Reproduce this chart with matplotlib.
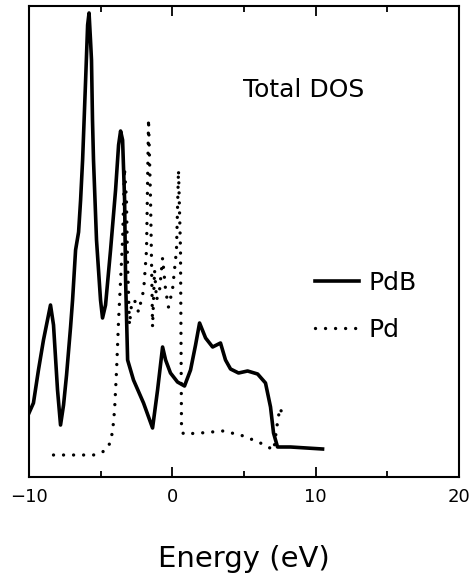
import matplotlib.pyplot as plt

# PdB total DOS (solid), arbitrary units
energy_pdb = [-10.0, -9.69, -9.34, -8.99, -8.71, -8.50, -8.29, -8.01, -7.80, -7.59,
              -7.38, -7.10, -6.96, -6.75, -6.61, -6.54, -6.40, -6.26, -6.05, -5.91,
              -5.81, -5.71, -5.64, -5.57, -5.50, -5.29, -5.01, -4.87, -4.66, -4.31,
              -3.96, -3.75, -3.61, -3.47, -3.33, -3.26, -3.12, -2.71, -2.01, -1.38,
              -1.03, -0.68, -0.47, -0.13, 0.36, 0.85, 1.27, 1.62, 1.90, 2.32,
              2.81, 3.36, 3.71, 4.06, 4.62, 5.25, 5.95, 6.50, 6.85, 7.06,
              7.34, 8.25, 10.48]
dos_pdb = [64, 74, 107, 137, 157, 172, 152, 87, 52, 72,
           102, 150, 177, 227, 239, 245, 277, 317, 397, 452,
           464, 437, 417, 357, 317, 237, 177, 159, 172, 227,
           287, 332, 346, 337, 277, 197, 117, 97, 74, 49,
           87, 130, 117, 104, 95, 91, 107, 132, 154, 139,
           130, 134, 117, 108, 104, 106, 103, 94, 70, 44,
           30, 30, 28]

# Pd total DOS (dotted)
energy_pd = [-8.29, -5.50, -4.87, -4.45, -4.17, -4.03, -3.89, -3.75, -3.61, -3.47,
             -3.34, -3.20, -3.13, -2.99, -2.85, -2.64, -2.36, -2.00, -1.80, -1.66,
             -1.52, -1.38, -1.24, -1.10, -0.89, -0.68, -0.47, -0.27, 0.01, 0.29,
             0.43, 0.57, 0.64, 0.78, 1.97, 3.51, 4.76, 6.01, 7.08, 7.29,
             7.50, 7.78]
dos_pd = [22, 22, 25, 30, 45, 67, 107, 157, 197, 237,
          309, 277, 217, 152, 172, 177, 165, 187, 227, 358,
          277, 150, 207, 177, 187, 219, 187, 170, 187, 227,
          307, 227, 47, 43, 44, 46, 42, 35, 27, 50,
          69, 60]

xticks_major = [-10, 0, 10, 20]
xticks_minor = [-5, 5, 15]

plt.rcParams['font.family'] = 'DejaVu Sans'

fig = plt.figure(figsize=(4.71, 5.84), dpi=100)
ax = fig.add_axes([29 / 471, 107 / 584, 430 / 471, 471 / 584])

ax.plot(energy_pdb, dos_pdb, color='black', lw=2.6, solid_joinstyle='round',
        label='PdB')
ax.plot(energy_pd, dos_pd, color='black', lw=2.4, linestyle=(0, (0.01, 3.0)),
        dash_capstyle='round', label='Pd')

ax.set_xlim(-10, 20)
ax.set_ylim(0, 471)
ax.set_xticks(xticks_major)
ax.set_xticks(xticks_minor, minor=True)
ax.set_xticklabels(['\u221210', '0', '10', '20'])
ax.set_yticks([])
ax.tick_params(axis='x', which='both', direction='in', top=True, bottom=True,
               width=1.3, labelsize=13, pad=8)
ax.tick_params(axis='x', which='major', length=7)
ax.tick_params(axis='x', which='minor', length=4.5)
for s in ax.spines.values():
    s.set_linewidth(1.5)

ax.set_xlabel('Energy (eV)', fontsize=21, labelpad=28)

ax.text(0.497, 0.822, 'Total DOS', transform=ax.transAxes, fontsize=18,
        ha='left', va='center')

ax.legend(loc='upper left', bbox_to_anchor=(0.665, 0.437), frameon=False,
          fontsize=18, handlelength=1.75, handletextpad=0.4, labelspacing=0.9,
          borderaxespad=0, borderpad=0)

plt.savefig('out.png', dpi=100)
